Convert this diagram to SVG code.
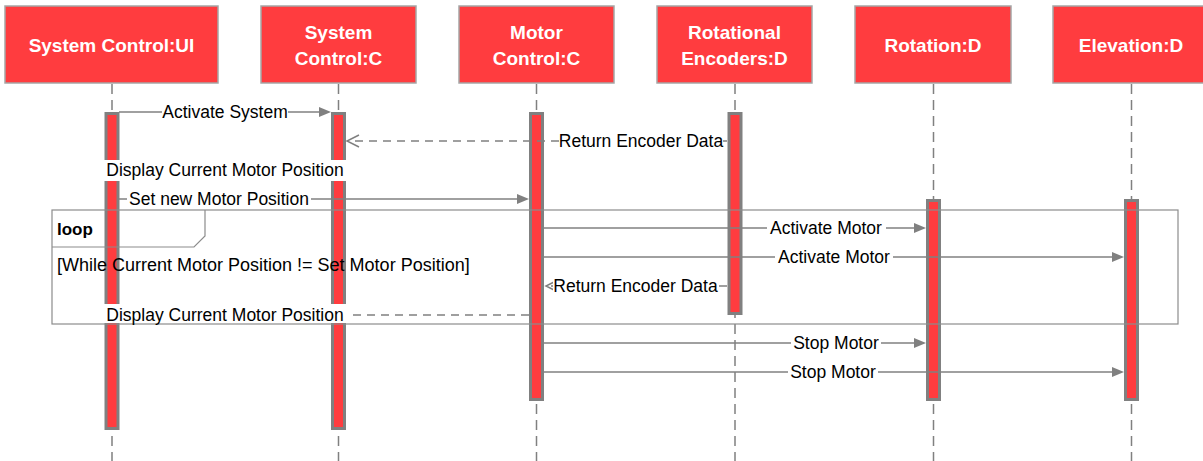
<svg xmlns="http://www.w3.org/2000/svg" width="1203" height="461" viewBox="0 0 1203 461">
<style>
.hdr{fill:#FF3C3F;stroke:#A6A6A6;stroke-width:1.5}
.ht{font-family:"Liberation Sans",Arial,sans-serif;font-weight:bold;font-size:19px;fill:#FFFFFF;text-anchor:middle}
.life{stroke:#808080;stroke-width:1.5;stroke-dasharray:10 6;fill:none}
.bar{fill:#FF3C3F;stroke:#808080;stroke-width:3}
.msg{stroke:#808080;stroke-width:1.5;fill:none}
.ret{stroke:#808080;stroke-width:1.5;fill:none;stroke-dasharray:8 6}
.ah{fill:#808080}
.oh{stroke:#808080;stroke-width:1.5;fill:none}
.lbg{fill:#FFFFFF}
.lt{font-family:"Liberation Sans",Arial,sans-serif;font-size:17.5px;fill:#000000;text-anchor:middle}
.frame{stroke:#8C8C8C;stroke-width:1.2;fill:none}
</style>
<rect width="1203" height="461" fill="#FFFFFF"/>

<g id="lifelines">
<line class="life" x1="112" y1="84" x2="112" y2="461"/>
<line class="life" x1="338.5" y1="84" x2="338.5" y2="461"/>
<line class="life" x1="536.5" y1="84" x2="536.5" y2="461"/>
<line class="life" x1="735" y1="84" x2="735" y2="461"/>
<line class="life" x1="933.5" y1="84" x2="933.5" y2="461"/>
<line class="life" x1="1131.5" y1="84" x2="1131.5" y2="461"/>
</g>

<g id="node-ui">
<rect class="hdr" x="5" y="6" width="213" height="77"/>
<text class="ht" x="111.5" y="52">System Control:UI</text>
<rect class="bar" x="106" y="113.5" width="12" height="315"/>
</g>
<g id="node-sysc">
<rect class="hdr" x="261" y="6" width="155" height="77"/>
<text class="ht" x="338.5" y="38.5">System</text>
<text class="ht" x="338.5" y="65">Control:C</text>
<rect class="bar" x="332.5" y="113.5" width="12" height="315"/>
</g>
<g id="node-motor">
<rect class="hdr" x="459" y="6" width="155" height="77"/>
<text class="ht" x="536.5" y="38.5">Motor</text>
<text class="ht" x="536.5" y="65">Control:C</text>
<rect class="bar" x="530.5" y="113.5" width="12" height="286"/>
</g>
<g id="node-enc">
<rect class="hdr" x="657" y="6" width="155" height="77"/>
<text class="ht" x="734.5" y="38.5">Rotational</text>
<text class="ht" x="734.5" y="65">Encoders:D</text>
<rect class="bar" x="729" y="113.5" width="12" height="200"/>
</g>
<g id="node-rot">
<rect class="hdr" x="855" y="6" width="156" height="77"/>
<text class="ht" x="933" y="52">Rotation:D</text>
<rect class="bar" x="927.5" y="200.5" width="12" height="199"/>
</g>
<g id="node-elev">
<rect class="hdr" x="1053" y="6" width="156" height="77"/>
<text class="ht" x="1131" y="52">Elevation:D</text>
<rect class="bar" x="1125.5" y="200.5" width="12" height="199"/>
</g>

<g id="loop-frame">
<rect class="frame" x="52" y="210" width="1126" height="114"/>
<path class="frame" d="M52,247 H194 L205,236 V210"/>
<text x="57" y="235" style="font-family:'Liberation Sans',Arial,sans-serif;font-weight:bold;font-size:17px;fill:#000">loop</text>
<text x="57" y="271" style="font-family:'Liberation Sans',Arial,sans-serif;font-size:18px;fill:#000">[While Current Motor Position != Set Motor Position]</text>
</g>

<g id="connectors">
<!-- Activate System -->
<line class="msg" x1="119" y1="112" x2="320" y2="112"/>
<polygon class="ah" points="331,112 319,107 319,117"/>
<!-- Return Encoder Data 1 -->
<line class="ret" x1="727" y1="141" x2="348" y2="141"/>
<polyline class="oh" points="359,135 347,141 359,147"/>
<!-- Set new Motor Position -->
<line class="msg" x1="119" y1="199" x2="518" y2="199"/>
<polygon class="ah" points="529,199 517,194 517,204"/>
<!-- Activate Motor 1 -->
<line class="msg" x1="544" y1="228" x2="915" y2="228"/>
<polygon class="ah" points="926,228 914,223 914,233"/>
<!-- Activate Motor 2 -->
<line class="msg" x1="544" y1="257" x2="1113" y2="257"/>
<polygon class="ah" points="1124,257 1112,252 1112,262"/>
<!-- Return Encoder Data 2 -->
<line class="ret" x1="727" y1="286" x2="546" y2="286"/>
<polyline class="oh" points="556,281 546,286 556,291"/>
<!-- Display Current Motor Position 2 -->
<line class="ret" x1="529" y1="315" x2="347" y2="315"/>
<!-- Stop Motor 1 -->
<line class="msg" x1="544" y1="343" x2="915" y2="343"/>
<polygon class="ah" points="926,343 914,338 914,348"/>
<!-- Stop Motor 2 -->
<line class="msg" x1="544" y1="372" x2="1113" y2="372"/>
<polygon class="ah" points="1124,372 1112,367 1112,377"/>
</g>

<g id="labels">
<rect class="lbg" x="162" y="103" width="126" height="18"/>
<text class="lt" x="225" y="118">Activate System</text>
<rect class="lbg" x="559" y="132" width="164" height="18"/>
<text class="lt" x="641" y="147">Return Encoder Data</text>
<rect class="lbg" x="103" y="160" width="244" height="21"/>
<text class="lt" x="225" y="176">Display Current Motor Position</text>
<rect class="lbg" x="127" y="190" width="184" height="18"/>
<text class="lt" x="219" y="205">Set new Motor Position</text>
<rect class="lbg" x="767" y="219" width="119" height="18"/>
<text class="lt" x="826" y="234">Activate Motor</text>
<rect class="lbg" x="775" y="248" width="118" height="18"/>
<text class="lt" x="834" y="263">Activate Motor</text>
<rect class="lbg" x="553" y="277" width="165" height="18"/>
<text class="lt" x="635.5" y="292">Return Encoder Data</text>
<rect class="lbg" x="103" y="304" width="244" height="19"/>
<text class="lt" x="225" y="321">Display Current Motor Position</text>
<rect class="lbg" x="791" y="334" width="90" height="18"/>
<text class="lt" x="836" y="349">Stop Motor</text>
<rect class="lbg" x="788" y="363" width="90" height="18"/>
<text class="lt" x="833" y="378">Stop Motor</text>
</g>
</svg>
